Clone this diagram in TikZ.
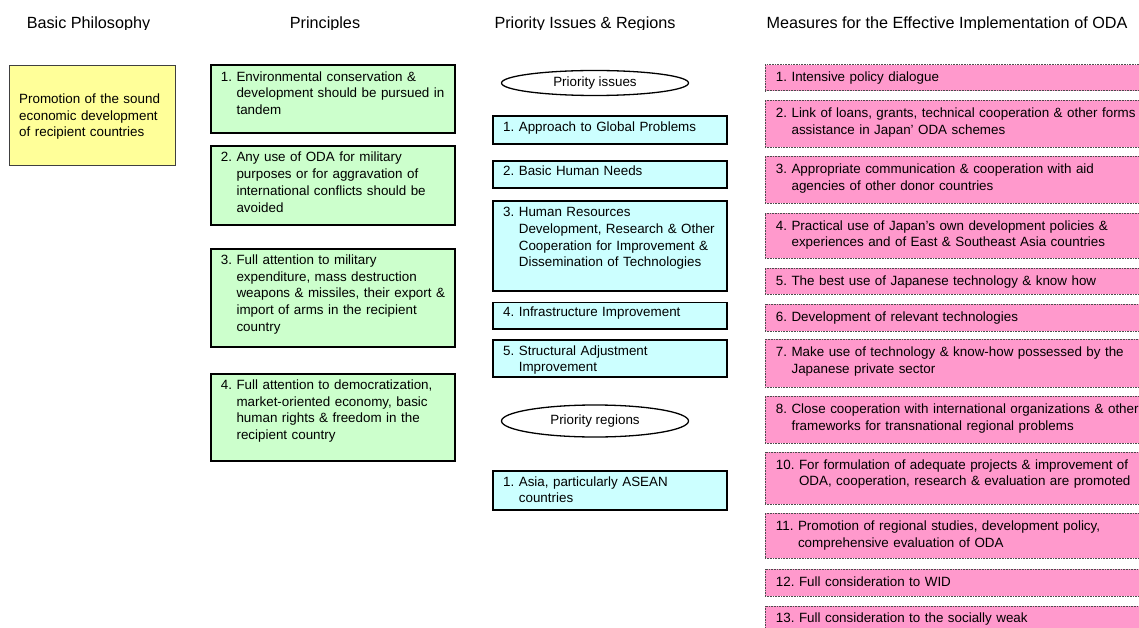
\documentclass[tikz,border=0pt]{standalone}
\usepackage{fontspec}
\setmainfont{Liberation Sans}
\usetikzlibrary{shapes.geometric,calc}

\definecolor{philfill}{HTML}{FFFF99}
\definecolor{prinfill}{HTML}{CCFFCC}
\definecolor{issuefill}{HTML}{CCFFFF}
\definecolor{measfill}{HTML}{FF99CC}

\newcommand\bodyfont{\fontsize{13.4}{16.7}\selectfont}
\newcommand\headfont{\fontsize{16.2}{19}\selectfont}
% continuation line indented past the item number
\newcommand\nl[1]{\\\phantom{#1}~}

\tikzset{
  panelbox/.style={rectangle, inner sep=0pt, anchor=north west},
  philbox/.style={panelbox, draw=black!75, line width=1.1pt, fill=philfill},
  prinbox/.style={panelbox, draw=black, line width=2pt, fill=prinfill},
  issuebox/.style={panelbox, draw=black, line width=1.6pt, fill=issuefill},
  measbox/.style={panelbox, draw=black!70, line width=0.8pt,
                  dash pattern=on 0.8pt off 0.8pt, fill=measfill},
  bodytext/.style={anchor=base west, inner sep=0pt, text width=380pt,
                   align=left, font=\bodyfont},
  heading/.style={anchor=base, inner sep=0pt, font=\headfont},
  tag/.style={ellipse, draw=black, line width=1.3pt, inner sep=0pt,
              font=\bodyfont, minimum width=187pt}
}

% #1 style, #2 name, #3/#4 top-left, #5/#6 bottom-right, #7 text offset, #8 text
\newcommand\panel[8]{%
  \node[#1, minimum width={#5-#3}, minimum height={#6-#4}] (#2) at (#3,#4) {};
  \node[bodytext] (#2-t) at ($(#2.north west)+(#7)$) {#8};%
}

\begin{document}
\begin{tikzpicture}[x=1pt,y=-1pt]
\useasboundingbox (0,0) rectangle (1139,628);
\clip (0,0) rectangle (1139,628);

% column headings (cut off just below the baseline)
\begin{scope}
  \clip (0,0) rectangle (1139,29.3);
  \node[heading] (hphil)  at (88.5,28.3) {Basic Philosophy};
  \node[heading] (hprin)  at (325,28.3)  {Principles};
  \node[heading] (hissue) at (585,28.3)  {Priority Issues \& Regions};
  \node[heading] (hmeas)  at (947,28.3)  {Measures for the Effective Implementation of ODA};
\end{scope}

% basic philosophy
\panel{philbox}{phil}{9}{65}{175}{165}{10,38.5}
  {Promotion of the sound\\economic development\\of recipient countries}

% principles
\panel{prinbox}{p1}{210}{64}{454}{132}{10.7,17.3}
  {1.~Environmental conservation \&\nl{1.}development should be pursued in\nl{1.}tandem}
\panel{prinbox}{p2}{210}{145}{454}{224}{10.7,17}
  {2.~Any use of ODA for military\nl{2.}purposes or for aggravation of\nl{2.}international conflicts should be\nl{2.}avoided}
\panel{prinbox}{p3}{210}{247.5}{454}{346}{10.7,17}
  {3.~Full attention to military\nl{3.}expenditure, mass destruction\nl{3.}weapons \& missiles, their export \&\nl{3.}import of arms in the recipient\nl{3.}country}
\panel{prinbox}{p4}{210}{372.5}{454}{460}{10.7,17}
  {4.~Full attention to democratization,\nl{4.}market-oriented economy, basic\nl{4.}human rights \& freedom in the\nl{4.}recipient country}

% priority issues
\node[tag, minimum height=25pt] (tissues) at (595,83) {Priority issues};
\panel{issuebox}{i1}{492}{115}{726}{143}{11,16.3}
  {1.~Approach to Global Problems}
\panel{issuebox}{i2}{492}{160}{726}{187}{11,16}
  {2.~Basic Human Needs}
\panel{issuebox}{i3}{492}{200}{726}{290}{11,16.8}
  {3.~Human Resources\nl{3.}Development, Research \& Other\nl{3.}Cooperation for Improvement \&\nl{3.}Dissemination of Technologies}
\panel{issuebox}{i4}{492}{301.5}{726}{328}{11,15}
  {4.~Infrastructure Improvement}
\panel{issuebox}{i5}{492}{339}{726}{376}{11,16}
  {5.~Structural Adjustment\nl{5.}Improvement}

% priority regions
\node[tag, minimum height=32pt] (tregions) at (595,421) {Priority regions};
\panel{issuebox}{r1}{492}{470}{726}{509}{11,16}
  {1.~Asia, particularly ASEAN\nl{1.}countries}

% measures (boxes run past the right edge)
\panel{measbox}{m1}{764.5}{64.3}{1160}{90.5}{11.2,16.8}
  {1.~Intensive policy dialogue}
\panel{measbox}{m2}{764.5}{100}{1160}{146.7}{11.2,17.5}
  {2.~Link of loans, grants, technical cooperation \& other forms\nl{2.}assistance in Japan’ ODA schemes}
\panel{measbox}{m3}{764.5}{156}{1160}{202.7}{11.2,17.5}
  {3.~Appropriate communication \& cooperation with aid\nl{3.}agencies of other donor countries}
\panel{measbox}{m4}{764.5}{212.7}{1160}{258}{11.2,17.5}
  {4.~Practical use of Japan’s own development policies \&\nl{4.}experiences and of East \& Southeast Asia countries}
\panel{measbox}{m5}{764.5}{268}{1160}{294}{11.2,17}
  {5.~The best use of Japanese technology \& know how}
\panel{measbox}{m6}{764.5}{304}{1160}{330.7}{11.2,17}
  {6.~Development of relevant technologies}
\panel{measbox}{m7}{764.5}{339}{1160}{386.7}{11.2,17.5}
  {7.~Make use of technology \& know-how possessed by the\nl{7.}Japanese private sector}
\panel{measbox}{m8}{764.5}{396}{1160}{442.7}{11.2,17.5}
  {8.~Close cooperation with international organizations \& other\nl{8.}frameworks for transnational regional problems}
\panel{measbox}{m10}{764.5}{451.7}{1160}{504}{11.2,17.5}
  {10.~For formulation of adequate projects \& improvement of\nl{10.}ODA, cooperation, research \& evaluation are promoted}
\panel{measbox}{m11}{764.5}{513}{1160}{558}{11.2,17.5}
  {11.~Promotion of regional studies, development policy,\nl{11.}comprehensive evaluation of ODA}
\panel{measbox}{m12}{764.5}{569}{1160}{595.7}{11.2,17}
  {12.~Full consideration to WID}
\panel{measbox}{m13}{764.5}{605.7}{1160}{650}{11.2,17}
  {13.~Full consideration to the socially weak}
\end{tikzpicture}
\end{document}
